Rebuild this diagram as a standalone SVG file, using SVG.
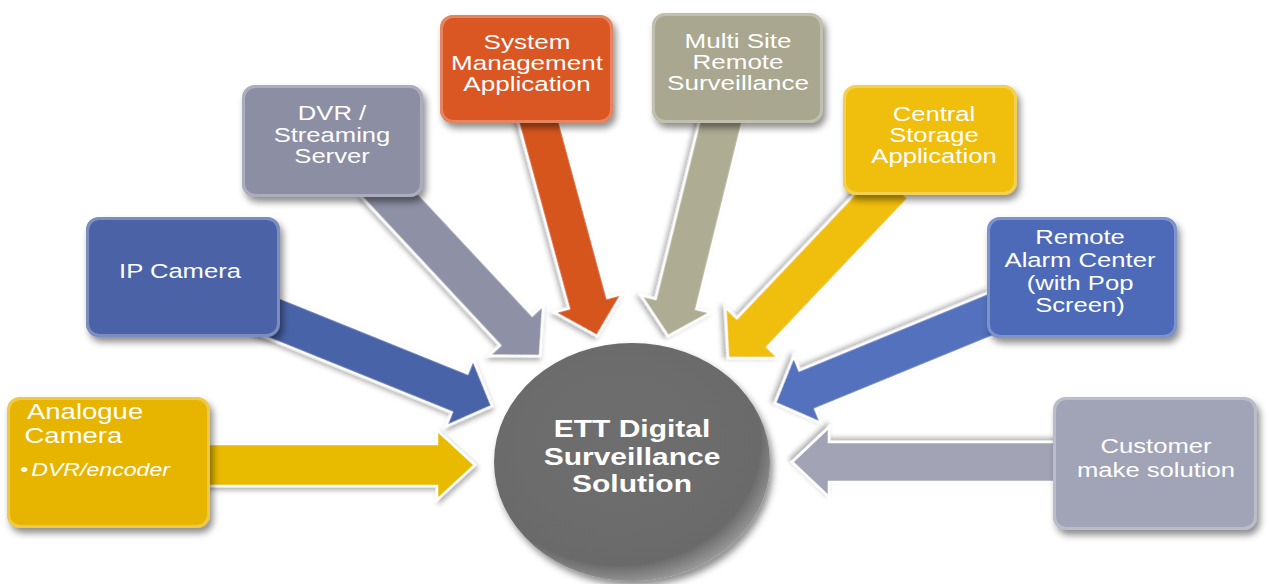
<svg xmlns="http://www.w3.org/2000/svg" width="1269" height="584" viewBox="0 0 1269 584">
<defs>
<filter id="sh" x="-20%" y="-20%" width="140%" height="150%">
<feDropShadow dx="3" dy="5" stdDeviation="3.5" flood-color="#000" flood-opacity="0.45"/>
</filter>
<filter id="ash" x="-20%" y="-20%" width="140%" height="140%">
<feDropShadow dx="2" dy="3" stdDeviation="2.5" flood-color="#000" flood-opacity="0.3"/>
</filter>
<radialGradient id="disc" cx="0.45" cy="0.42" r="0.6">
<stop offset="0" stop-color="#6e6e6e"/>
<stop offset="0.86" stop-color="#6b6b6b"/>
<stop offset="1" stop-color="#9c9c9c"/>
</radialGradient>
<style>
.box{filter:url(#sh)}
.rim{fill:none;stroke:#ffffff;stroke-opacity:0.28;stroke-width:3}
.arr{stroke:#ffffff;stroke-width:2.5;stroke-linejoin:miter;filter:url(#ash)}
.t{font-family:"Liberation Sans",Arial,sans-serif;font-size:20.5px;fill:#ffffff;text-anchor:middle}
.tl{font-family:"Liberation Sans",Arial,sans-serif;font-size:22px;fill:#ffffff}
.it{font-family:"Liberation Sans",Arial,sans-serif;font-size:18.5px;fill:#ffffff;font-style:italic}
.tb{font-family:"Liberation Sans",Arial,sans-serif;font-size:24px;font-weight:bold;fill:#ffffff;text-anchor:middle}
</style>
</defs>
<rect width="1269" height="584" fill="#ffffff"/>

<g id="connectors">
<polygon class="arr" fill="#E8BA06" points="-275,-21 -38,-21 -38,-35 0,0 -38,35 -38,21 -275,21" transform="translate(475 465)"/>
<polygon class="arr" fill="#A2A4B6" points="-270,-20 -37,-20 -37,-35 0,0 -37,35 -37,20 -270,20" transform="translate(792 462) rotate(180)"/>
<polygon class="arr" fill="#4A63A8" points="-250,-21 -35,-21 -35,-36 0,0 -35,36 -35,21 -250,21" transform="translate(492 406) rotate(22)"/>
<polygon class="arr" fill="#8E90A5" points="-240,-22 -35,-22 -35,-37 0,0 -35,37 -35,22 -240,22" transform="translate(540 356) rotate(47)"/>
<polygon class="arr" fill="#D6541F" points="-230,-20 -34,-20 -34,-35 0,0 -34,35 -34,20 -230,20" transform="translate(597 336) rotate(74.8)"/>
<polygon class="arr" fill="#AEAC92" points="-230,-21 -33,-21 -33,-36 0,0 -33,36 -33,21 -230,21" transform="translate(668 336) rotate(103.9)"/>
<polygon class="arr" fill="#F0BE0F" points="-240,-21 -35,-21 -35,-37 0,0 -35,37 -35,21 -240,21" transform="translate(728 358) rotate(133.5)"/>
<polygon class="arr" fill="#5271BC" points="-240,-21 -35,-21 -35,-36 0,0 -35,36 -35,21 -240,21" transform="translate(775 403) rotate(157.7)"/>
</g>

<g id="hub">
<ellipse cx="632" cy="462" rx="138" ry="119" fill="url(#disc)" filter="url(#sh)"/>
<text class="tb" transform="translate(632 0) scale(1.25 1)"><tspan x="0" y="437">ETT Digital</tspan><tspan x="0" y="465">Surveillance</tspan><tspan x="0" y="492">Solution</tspan></text>
</g>

<g id="analogue-camera">
<rect class="box" x="7" y="397" width="203" height="131" rx="13" fill="#E7B500"/>
<rect class="rim" x="8.5" y="398.5" width="200" height="128" rx="12"/>
<text class="tl" transform="translate(27 0) scale(1.25 1)"><tspan x="0" y="419">Analogue</tspan><tspan x="-2" y="443">Camera</tspan></text>
<g transform="translate(20 0) scale(1.25 1)">
<text class="it" x="0" y="476" font-style="normal" font-size="14">•</text>
<text class="it" x="9" y="476">DVR/encoder</text>
</g>
</g>

<g id="ip-camera">
<rect class="box" x="86" y="217" width="194" height="120" rx="13" fill="#4B63A6"/>
<rect class="rim" x="87.5" y="218.5" width="191" height="117" rx="12"/>
<text class="t" x="0" y="278" font-size="22" transform="translate(180 0) scale(1.25 1)">IP Camera</text>
</g>

<g id="dvr-streaming-server">
<rect class="box" x="242" y="85" width="181" height="112" rx="13" fill="#8C8EA3"/>
<rect class="rim" x="243.5" y="86.5" width="178" height="109" rx="12"/>
<text class="t" transform="translate(332 0) scale(1.25 1)"><tspan x="0" y="120">DVR /</tspan><tspan x="0" y="142">Streaming</tspan><tspan x="0" y="163">Server</tspan></text>
</g>

<g id="system-management">
<rect class="box" x="440" y="15" width="173" height="108" rx="13" fill="#DA5622"/>
<rect class="rim" x="441.5" y="16.5" width="170" height="105" rx="12"/>
<text class="t" font-size="19.5" transform="translate(527 0) scale(1.27 1)"><tspan x="0" y="49">System</tspan><tspan x="0" y="70">Management</tspan><tspan x="0" y="91">Application</tspan></text>
</g>

<g id="multi-site">
<rect class="box" x="652" y="13" width="171" height="110" rx="13" fill="#A9A78F"/>
<rect class="rim" x="653.5" y="14.5" width="168" height="107" rx="12"/>
<text class="t" font-size="19.5" transform="translate(738 0) scale(1.27 1)"><tspan x="0" y="48">Multi Site</tspan><tspan x="0" y="69">Remote</tspan><tspan x="0" y="90">Surveillance</tspan></text>
</g>

<g id="central-storage">
<rect class="box" x="843" y="85" width="174" height="110" rx="13" fill="#F0BE0C"/>
<rect class="rim" x="844.5" y="86.5" width="171" height="107" rx="12"/>
<text class="t" transform="translate(934 0) scale(1.25 1)"><tspan x="0" y="121">Central</tspan><tspan x="0" y="142">Storage</tspan><tspan x="0" y="163">Application</tspan></text>
</g>

<g id="remote-alarm-center">
<rect class="box" x="987" y="217" width="190" height="121" rx="13" fill="#4D6BB9"/>
<rect class="rim" x="988.5" y="218.5" width="187" height="118" rx="12"/>
<text class="t" font-size="21" transform="translate(1080 0) scale(1.25 1)"><tspan x="0" y="244">Remote</tspan><tspan x="0" y="267">Alarm Center</tspan><tspan x="0" y="290">(with Pop</tspan><tspan x="0" y="312">Screen)</tspan></text>
</g>

<g id="customer-make-solution">
<rect class="box" x="1053" y="397" width="204" height="133" rx="13" fill="#A1A3B6"/>
<rect class="rim" x="1054.5" y="398.5" width="201" height="130" rx="12"/>
<text class="t" font-size="22.5" transform="translate(1156 0) scale(1.25 1)"><tspan x="0" y="453">Customer</tspan><tspan x="0" y="477">make solution</tspan></text>
</g>
</svg>
